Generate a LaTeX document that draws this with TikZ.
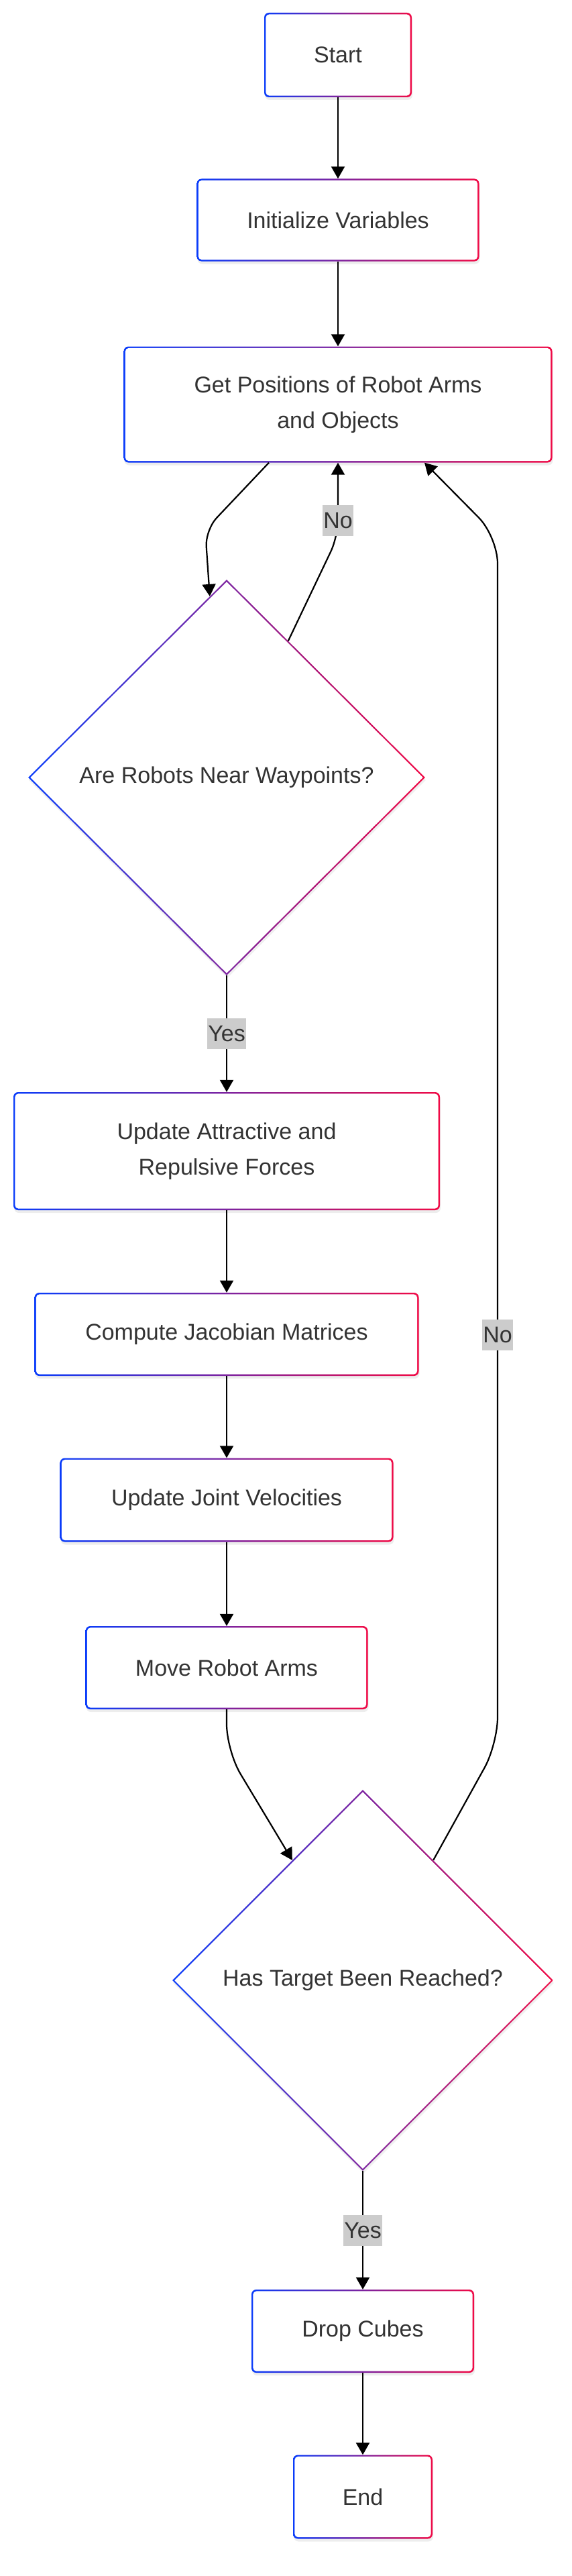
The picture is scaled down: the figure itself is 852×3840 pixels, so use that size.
\documentclass[tikz,border=0pt]{standalone}
\usepackage{fontspec}
\setmainfont{Liberation Sans}
\usetikzlibrary{calc,shapes.geometric,arrows.meta,shadows}

\definecolor{edgeblue}{RGB}{10,60,250}
\definecolor{edgered}{RGB}{240,10,70}
\definecolor{labelgray}{RGB}{204,204,204}
\definecolor{textgray}{RGB}{51,51,51}

\begin{document}
\begin{tikzpicture}[x=1pt, y=1pt,
    font=\fontsize{34}{53}\selectfont,
    stepbox/.style={rectangle, rounded corners=7pt, align=center, text=textgray, inner sep=0pt,
        general shadow={fill=black, opacity=0.07, shadow xshift=1pt, shadow yshift=-4pt},
        path picture={
            \shade[left color=edgeblue, right color=edgered] (path picture bounding box.south west) rectangle (path picture bounding box.north east);
            \fill[white, rounded corners=5pt] ([shift={(2.4pt,2.4pt)}]path picture bounding box.south west) rectangle ([shift={(-2.4pt,-2.4pt)}]path picture bounding box.north east);
        }},
    choice/.style={diamond, aspect=1, inner sep=0pt, text=textgray,
        general shadow={fill=black, opacity=0.06, shadow xshift=1pt, shadow yshift=-4pt},
        path picture={
            \shade[left color=edgeblue, right color=edgered] (path picture bounding box.south west) rectangle (path picture bounding box.north east);
            \fill[white] ([yshift=-3.2pt]path picture bounding box.north) -- ([xshift=-3.2pt]path picture bounding box.east) -- ([yshift=3.2pt]path picture bounding box.south) -- ([xshift=3.2pt]path picture bounding box.west) -- cycle;
        }},
    flow/.style={line width=2.2pt, draw=black, -{Triangle[length=18pt, width=20pt]}},
    answer/.style={fill=labelgray, text=textgray, inner xsep=1pt, inner ysep=0pt, minimum height=46pt}]

\useasboundingbox (0,0) rectangle (852,-3840);

\node[stepbox, minimum width=220pt, minimum height=126pt] (start) at (504,-82) {Start};
\node[stepbox, minimum width=421pt, minimum height=123pt] (init) at (504,-328) {Initialize Variables};
\node[stepbox, minimum width=639pt, minimum height=173pt] (getpos) at (504,-603) {Get Positions of Robot Arms\\and Objects};
\node[choice, minimum width=592pt, minimum height=590pt] (near) at (338,-1159) {Are Robots Near Waypoints?};
\node[stepbox, minimum width=636pt, minimum height=176pt] (forces) at (338,-1716) {Update Attractive and\\Repulsive Forces};
\node[stepbox, minimum width=573pt, minimum height=124pt] (jacobian) at (338,-1989) {Compute Jacobian Matrices};
\node[stepbox, minimum width=497pt, minimum height=125pt] (joints) at (338,-2236) {Update Joint Velocities};
\node[stepbox, minimum width=421pt, minimum height=124pt] (move) at (338,-2486) {Move Robot Arms};
\node[choice, minimum width=568pt, minimum height=568pt] (reached) at (541,-2952) {Has Target Been Reached?};
\node[stepbox, minimum width=332pt, minimum height=124pt] (drop) at (541,-3475) {Drop Cubes};
\node[stepbox, minimum width=208pt, minimum height=125pt] (stop) at (541,-3722) {End};

\draw[flow] (start) -- (init);
\draw[flow] (init) -- (getpos);
\draw[flow, rounded corners=25pt] ([xshift=-103pt]getpos.south) -- (306,-790) -- ($(near.north)!0.085!(near.west)$);
\draw[flow, rounded corners=25pt] ($(near.north)!0.31!(near.east)$) -- ([yshift=-110pt]getpos.south) -- (getpos.south);
\node[answer] (no1) at ([yshift=-86pt]getpos.south) {No};
\draw[flow] (near) -- node[answer] (yes1) {Yes} (forces);
\draw[flow] (forces) -- (jacobian);
\draw[flow] (jacobian) -- (joints);
\draw[flow] (joints) -- (move);
\draw[flow, rounded corners=40pt] (move.south) -- (338,-2610) -- ($(reached.north)!0.37!(reached.west)$);
\draw[flow, rounded corners=40pt] ($(reached.north)!0.37!(reached.east)$) -- (742,-2600) -- (742,-800) -- ([xshift=129pt]getpos.south);
\node[answer] (no2) at (742,-1990) {No};
\draw[flow] (reached) -- node[answer] (yes2) {Yes} (drop);
\draw[flow] (drop) -- (stop);

\end{tikzpicture}
\end{document}
